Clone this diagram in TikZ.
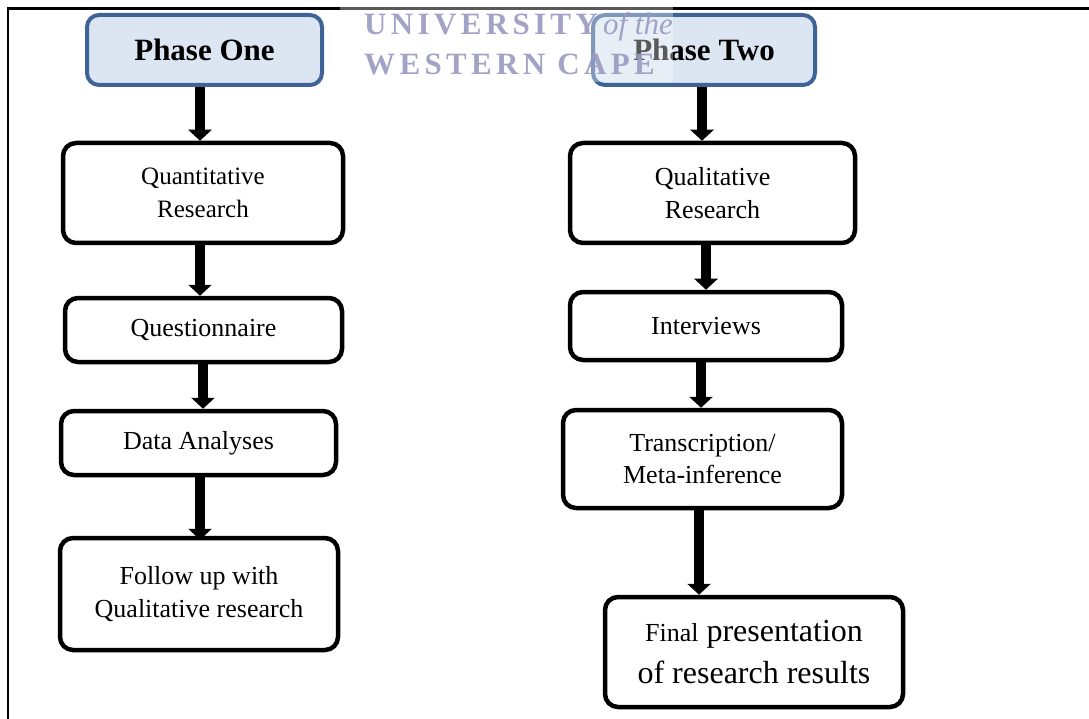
\documentclass[tikz,border=0pt]{standalone}
\usepackage{fontspec}
\setmainfont{Liberation Serif}
\newfontfamily\wmfont[LetterSpace=14]{Liberation Serif}
\usetikzlibrary{arrows.meta}
\definecolor{phasefill}{HTML}{DCE6F2}
\definecolor{phasedraw}{HTML}{3D6397}
\definecolor{wmcol}{HTML}{9A9AC2}
\tikzset{
  stepbox/.style={draw=black, line width=4.5pt, rounded corners=13pt, fill=white, align=center, inner sep=0pt, font=\fontsize{26}{33}\selectfont},
  phasebox/.style={draw=phasedraw, line width=4pt, rounded corners=12pt, fill=phasefill, align=center, inner sep=0pt, font=\fontsize{31}{36}\selectfont\bfseries},
  arr/.style={line width=10pt, -{Triangle[width=23pt,length=11pt]}},
  framel/.style={line width=2.5pt, black},
  wmtext/.style={text=wmcol, anchor=base west, inner sep=0pt, text opacity=0.9, font=\fontsize{31}{31}\selectfont\wmfont\bfseries}
}
\begin{document}
\begin{tikzpicture}[x=1pt,y=-1pt]
\useasboundingbox (0,0) rectangle (1089,719);
% frame
\coordinate (fTL) at (8,8.5);
\coordinate (fTR) at (1089,8.5);
\coordinate (fBL) at (8,719);
\draw[framel] (fTR) -- (fTL) -- (fBL);
% phase boxes
\node[phasebox, minimum width=235pt, minimum height=70pt] (p1) at (204.5,50) {Phase One};
\node[phasebox, minimum width=222pt, minimum height=70pt] (p2) at (704,50) {Phase Two};
% watermark (on top, semi-transparent)
\fill[white, fill opacity=0.35] (340,0) rectangle (673,82);
\node[wmtext] (wm1) at (364,35) {UNIVERSITY\,{\rmfamily\mdseries\itshape of the}};
\node[wmtext] (wm2) at (364,75) {WESTERN CAPE};
% left column
\node[stepbox, minimum width=280pt, minimum height=100pt, font=\fontsize{25}{33}\selectfont] (q1) at (203,193) {Quantitative\\Research};
\node[stepbox, minimum width=277pt, minimum height=64pt] (q2) at (203.5,330) {Questionnaire};
\node[stepbox, minimum width=275pt, minimum height=64pt] (q3) at (198.5,443) {Data Analyses};
\node[stepbox, minimum width=278pt, minimum height=112pt] (q4) at (199,594) {Follow up with\\Qualitative research};
% right column
\node[stepbox, minimum width=285pt, minimum height=100pt] (r1) at (712.5,193) {Qualitative\\Research};
\node[stepbox, minimum width=272pt, minimum height=68pt] (r2) at (706,326) {Interviews};
\node[stepbox, minimum width=279pt, minimum height=98pt, font=\fontsize{26}{32}\selectfont] (r3) at (702.5,459) {Transcription/\\Meta-inference};
\node[stepbox, minimum width=298pt, minimum height=110pt, font=\fontsize{32}{42}\selectfont] (r4) at (754,652) {{\fontsize{26}{42}\selectfont Final} presentation\\of research results};
% arrows
\draw[arr] (p1.south -| 200,0) -- (q1.north -| 200,0);
\draw[arr] (q1.south -| 200,0) -- (q2.north -| 200,0);
\draw[arr] (q2.south -| 203,0) -- (q3.north -| 203,0);
\draw[arr] (q3.south -| 200,0) -- ([yshift=-4pt]q4.north -| 200,0);
\draw[arr] (p2.south -| 702,0) -- (r1.north -| 702,0);
\draw[arr] (r1.south -| 706,0) -- (r2.north -| 706,0);
\draw[arr] (r2.south -| 701,0) -- (r3.north -| 701,0);
\draw[arr] (r3.south -| 699,0) -- (r4.north -| 699,0);
\end{tikzpicture}
\end{document}
